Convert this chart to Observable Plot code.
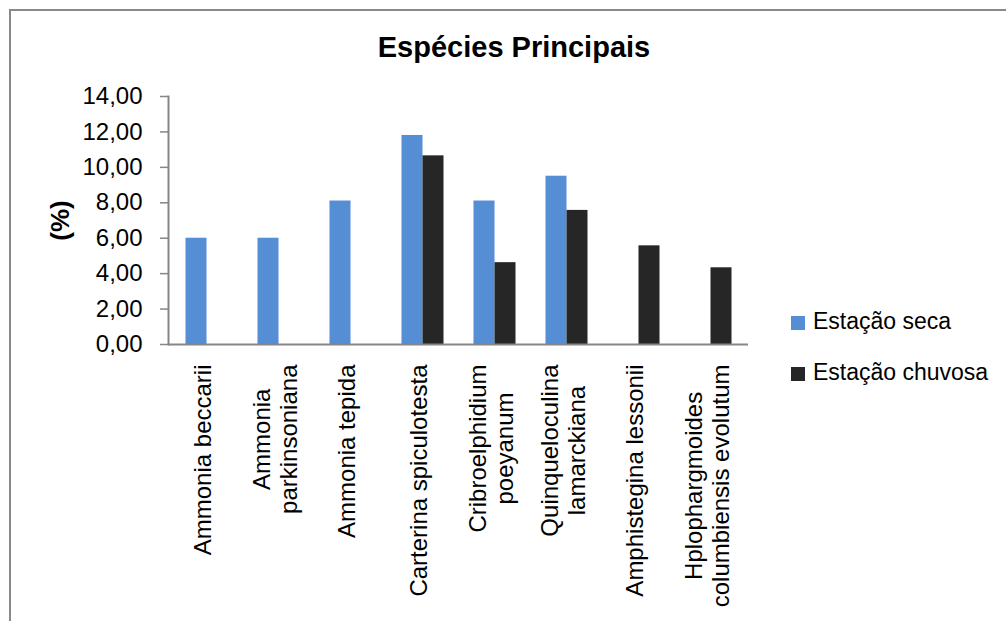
<!DOCTYPE html>
<html>
<head>
<meta charset="utf-8">
<script src="https://cdn.jsdelivr.net/npm/d3@7"></script>
<script src="https://cdn.jsdelivr.net/npm/@observablehq/plot@0.6"></script>
<style>
  body { margin: 0; background: #fff; }
  #wrap { position: relative; width: 1006px; height: 621px; overflow: hidden; font-family: "Liberation Sans", Arial, sans-serif; color: #000; }
  #border { position: absolute; left: 9px; top: 9px; width: 1100px; height: 700px; border-left: 2px solid #898989; border-top: 2px solid #898989; z-index: 3; pointer-events: none; }
  #title { height: 80px; box-sizing: border-box; padding-top: 33px; padding-left: 22px; font-size: 29px; line-height: 29px; font-weight: bold; text-align: center; }
  #legend { position: absolute; left: 791px; top: 0; z-index: 2; }
  .leg { position: absolute; left: 0; white-space: nowrap; font-size: 23px; line-height: 23px; }
  .sw { position: absolute; left: 0; top: 6px; width: 14px; height: 14px; }
  .lt { position: absolute; left: 22px; top: 0; }
</style>
</head>
<body>
<div id="wrap">
  <div id="title">Espécies Principais</div>
  <div id="chart"></div>
  <div id="legend"></div>
  <div id="border"></div>
</div>
<script>
// ---- data ----
const categories = [
  "Ammonia beccarii",
  "Ammonia parkinsoniana",
  "Ammonia tepida",
  "Carterina spiculotesta",
  "Cribroelphidium poeyanum",
  "Quinqueloculina lamarckiana",
  "Amphistegina lessonii",
  "Hplophargmoides columbiensis evolutum"
];
const categoryLabels = [
  "Ammonia beccarii",
  "Ammonia\nparkinsoniana",
  "Ammonia tepida",
  "Carterina spiculotesta",
  "Cribroelphidium\npoeyanum",
  "Quinqueloculina\nlamarckiana",
  "Amphistegina lessonii",
  "Hplophargmoides\ncolumbiensis evolutum"
];
const seriesNames = ["Estação seca", "Estação chuvosa"];
const seriesColors = ["#558ED5", "#262626"];
const secaValues    = [6.00, 6.00, 8.10, 11.80, 8.10, 9.50, null, null];
const chuvosaValues = [null, null, null, 10.65, 4.62, 7.57, 5.57, 4.33];
const yTicks = [0, 2, 4, 6, 8, 10, 12, 14];
const yLabel = "(%)";

// ---- table ----
const rows = [];
categories.forEach((c, i) => {
  if (secaValues[i] != null) rows.push({cat: c, serie: seriesNames[0], value: secaValues[i]});
  if (chuvosaValues[i] != null) rows.push({cat: c, serie: seriesNames[1], value: chuvosaValues[i]});
});

const fmt = d => d.toFixed(2).replace(".", ",");
const FONT = '"Liberation Sans", Arial, sans-serif';
const LABEL_SIZE = 24;

// measure longest line of each category label (to top-align the block like Excel)
const ctx = document.createElement("canvas").getContext("2d");
ctx.font = `${LABEL_SIZE}px ${FONT}`;
const maxLen = categoryLabels.map(l => Math.max(...l.split("\n").map(s => ctx.measureText(s).width)));

const labelMarks = categories.map((c, i) =>
  Plot.text([c], {
    x: d => d,
    text: () => categoryLabels[i],
    frameAnchor: "bottom",
    rotate: -90,
    textAnchor: "middle",
    lineAnchor: "middle",
    lineHeight: 1.1,
    fontSize: LABEL_SIZE,
    fill: "#000",
    dx: -4,
    dy: 20 + maxLen[i] / 2
  })
);

const chart = Plot.plot({
  width: 1006,
  height: 541,
  marginLeft: 168,
  marginRight: 258,
  marginTop: 16,
  marginBottom: 277,
  style: {background: "transparent", fontFamily: FONT, color: "#000", overflow: "visible"},
  x: {domain: categories, paddingInner: 0.7103, paddingOuter: 0.355, axis: null},
  y: {domain: [0, 14], axis: null},
  color: {domain: seriesNames, range: seriesColors},
  marks: [
    Plot.barY(rows.filter(d => d.serie === seriesNames[0]), {x: "cat", y: "value", fill: "serie", dx: -10.5}),
    Plot.barY(rows.filter(d => d.serie === seriesNames[1]), {x: "cat", y: "value", fill: "serie", dx: 10.5}),
    Plot.axisY({ticks: yTicks, tickFormat: fmt, tickSize: 8, tickPadding: 18, fontSize: 24, stroke: "#868686", strokeWidth: 1.5, fill: "#000", label: null}),
    Plot.frame({anchor: "left", stroke: "#868686", strokeWidth: 2}),
    Plot.ruleY([0], {stroke: "#868686", strokeWidth: 2}),
    Plot.text([yLabel], {text: d => d, frameAnchor: "left", dx: -108, rotate: -90, textAnchor: "middle", lineAnchor: "middle", fontSize: 26, fontWeight: "bold", fill: "#000"}),
    ...labelMarks
  ]
});
document.getElementById("chart").appendChild(chart);

// legend
const legend = document.getElementById("legend");
seriesNames.forEach((s, i) => {
  const item = document.createElement("div");
  item.className = "leg";
  item.style.top = (310 + i * 51) + "px";
  const sw = document.createElement("span");
  sw.className = "sw";
  sw.style.background = seriesColors[i];
  const t = document.createElement("span");
  t.className = "lt";
  t.textContent = s;
  item.appendChild(sw);
  item.appendChild(t);
  legend.appendChild(item);
});
</script>
</body>
</html>
